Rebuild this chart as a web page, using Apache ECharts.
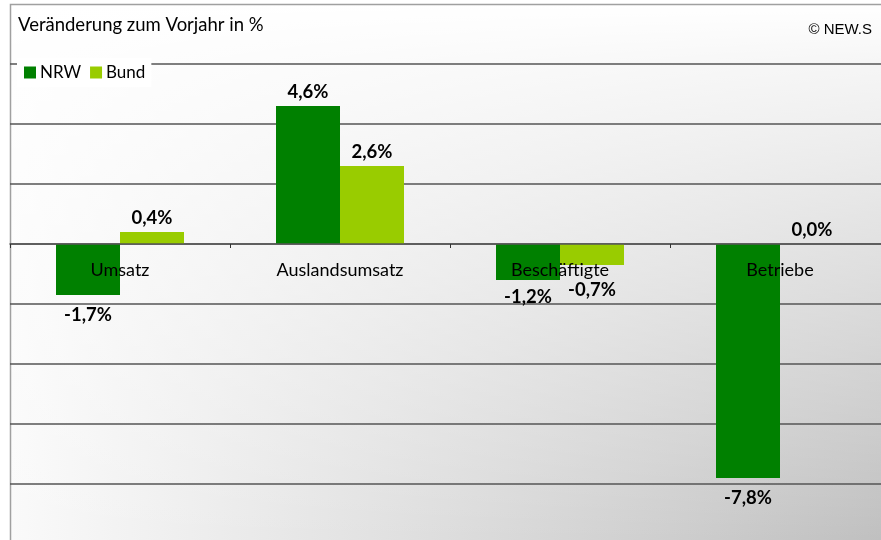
<!DOCTYPE html>
<html>
<head>
<meta charset="utf-8">
<script src="https://cdn.jsdelivr.net/npm/echarts@6/dist/echarts.min.js"></script>
<style>
html,body{margin:0;padding:0;background:#fff;}
#chart{width:881px;height:540px;}
</style>
</head>
<body>
<div id="chart"></div>
<script>
var categories = ['Umsatz', 'Auslandsumsatz', 'Beschäftigte', 'Betriebe'];
var nrwValues = [-1.7, 4.6, -1.2, -7.8];
var bundValues = [0.4, 2.6, -0.7, 0.0];
var seriesNames = ['NRW', 'Bund'];
var yTicks = [-10, -8, -6, -4, -2, 0, 2, 4, 6];

var FONT = 'Lato';
var GRID_H = 480;
var yMin = yTicks[0], yMax = yTicks[yTicks.length - 1];
// move the category axis from the grid bottom up to the zero line
var zeroOffset = -GRID_H * (0 - yMin) / (yMax - yMin);

function fmt(v) { return v.toFixed(1).replace('.', ',') + '%'; }
function buildData(values, extraDist) {
  return values.map(function (v, i) {
    var neg = v < 0;
    return {
      value: v,
      label: {
        position: neg ? 'bottom' : 'top',
        distance: neg ? (11 + (extraDist[i] || 0)) : 4
      }
    };
  });
}

var chart = echarts.init(document.getElementById('chart'), null, {renderer: 'canvas'});
var option = {
  animation: false,
  backgroundColor: '#ffffff',
  graphic: [
    {
      type: 'rect', z: -10,
      shape: {x: 10, y: 4, width: 871, height: 536},
      style: {
        fill: {
          type: 'linear', x: 0, y: 0, x2: 1, y2: 0,
          colorStops: [
            {offset: 0, color: '#fafafa'},
            {offset: 1, color: '#c0c0c0'}
          ]
        }
      },
      silent: true
    },
    {
      type: 'rect', z: -9,
      shape: {x: 10, y: 4, width: 871, height: 536},
      style: {
        fill: {
          type: 'linear', x: 0, y: 0, x2: 0, y2: 1,
          colorStops: [
            {offset: 0, color: 'rgba(255,255,255,1)'},
            {offset: 0.112, color: 'rgba(255,255,255,0.85)'},
            {offset: 1, color: 'rgba(255,255,255,0)'}
          ]
        }
      },
      silent: true
    },
    {
      type: 'rect', z: -8,
      shape: {x: 10.5, y: 4.5, width: 900, height: 600},
      style: {fill: 'none', stroke: '#a0a0a0', lineWidth: 1.5},
      silent: true
    }
  ],
  title: [
    {
      text: 'Veränderung zum Vorjahr in %', left: 18, top: 16, padding: 0,
      textStyle: {fontFamily: FONT, fontSize: 18.5, fontWeight: 'normal', color: '#000'}
    },
    {
      text: '© NEW.S', right: 9, top: 22, padding: 0,
      textStyle: {fontFamily: 'Liberation Sans', fontSize: 15, fontWeight: 'normal', color: '#000'}
    }
  ],
  legend: {
    data: seriesNames, left: 17, top: 58,
    padding: [6, 6, 6, 7], itemGap: 9, itemWidth: 12, itemHeight: 12,
    backgroundColor: '#ffffff', icon: 'rect',
    textStyle: {fontFamily: FONT, fontSize: 17, color: '#000', padding: [0, 0, 0, -1]}
  },
  grid: {left: 10, top: 64, width: 880, height: GRID_H, containLabel: false, outerBoundsMode: 'none'},
  xAxis: {
    type: 'category', data: categories, z: 5, position: 'bottom', offset: zeroOffset,
    axisLine: {onZero: false, lineStyle: {color: '#555', width: 1.5}},
    axisTick: {show: true, length: 4, lineStyle: {color: '#333'}},
    axisLabel: {margin: 17, fontFamily: FONT, fontSize: 18, color: '#000'},
    splitLine: {show: false}
  },
  yAxis: {
    type: 'value', min: yMin, max: yMax, interval: 2,
    axisLine: {show: false}, axisTick: {show: false}, axisLabel: {show: false},
    splitLine: {lineStyle: {color: '#555', width: 1.5}}
  },
  series: [
    {
      name: seriesNames[0], type: 'bar', barWidth: 64, barGap: '0%',
      itemStyle: {color: '#008000'},
      label: {show: true, fontFamily: FONT, fontWeight: 'bold', fontSize: 18.5, color: '#000',
        formatter: function (p) { return fmt(p.value); }},
      data: buildData(nrwValues, {2: -3})
    },
    {
      name: seriesNames[1], type: 'bar', barWidth: 64, barGap: '0%',
      itemStyle: {color: '#99cc00'},
      label: {show: true, fontFamily: FONT, fontWeight: 'bold', fontSize: 18.5, color: '#000',
        formatter: function (p) { return fmt(p.value); }},
      data: buildData(bundValues, {2: 5})
    }
  ]
};
chart.setOption(option);
</script>
</body>
</html>
